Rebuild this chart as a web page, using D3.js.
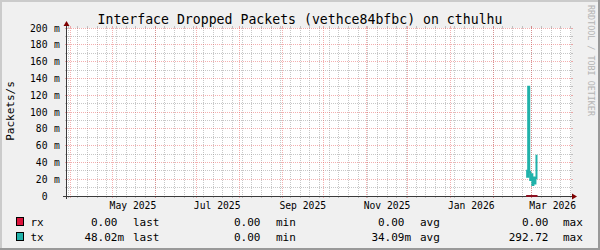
<!DOCTYPE html>
<html>
<head>
<meta charset="utf-8">
<script src="https://cdn.jsdelivr.net/npm/d3@7"></script>
<style>
  body { margin: 0; background: #f0f0f0; }
  svg { display: block; font-family: "DejaVu Sans Mono", monospace; }
</style>
</head>
<body>
<svg id="chart" width="600" height="250"></svg>
<script>
// chart values
const title = "Interface Dropped Packets (vethce84bfbc) on cthulhu";
const yLabel = "Packets/s";
const watermark = "RRDTOOL / TOBI OETIKER";
const timeStart = "2025-03-29T06:00";
const timeEnd = "2026-03-29T06:00";

const seriesNames = ["rx", "tx"];
const seriesColors = ["#dc143c", "#20b2aa"];

const sampleTimes = ["2026-02-24T18:00", "2026-02-25T12:00", "2026-02-26T06:00", "2026-02-27T00:00",
  "2026-02-27T18:00", "2026-02-28T12:00", "2026-03-01T06:00", "2026-03-02T00:00",
  "2026-03-02T18:00", "2026-03-03T12:00", "2026-03-04T06:00"];
const rxValues = [0, 0, 0, 0, 0, 0, 0, 0, 0, 0, 0];
const txValues = [0.030, 0.023, 0.130, 0.029, 0.019, 0.026, 0.013, 0.022, 0.015, 0.021, 0.048];

const yTicks = [0, 0.02, 0.04, 0.06, 0.08, 0.10, 0.12, 0.14, 0.16, 0.18, 0.20];
const yTickLabels = ["0", "20 m", "40 m", "60 m", "80 m", "100 m", "120 m", "140 m", "160 m", "180 m", "200 m"];
const xTickLabels = ["May 2025", "Jul 2025", "Sep 2025", "Nov 2025", "Jan 2026", "Mar 2026"];

const statNames = ["last", "min", "avg", "max"];
const rxStats = ["0.00", "0.00", "0.00", "0.00"];
const txStats = ["48.02m", "0.00", "34.09m", "292.72"];

// ---------------------------------------------------------------
const W = 600, H = 250;
const parseT = d3.timeParse("%Y-%m-%dT%H:%M");
const parseM = d3.timeParse("%b %Y");
const t0 = parseT(timeStart), t1 = parseT(timeEnd);

const x = d3.scaleTime().domain([t0, t1]).range([67, 571]);
const y = d3.scaleLinear().domain([0, 0.2]).range([196, 28]);
const X0 = 67, X1 = 571, Y0 = 196, Y1 = 28;

const svg = d3.select("#chart");

// frame with rrdtool-like shading
svg.append("rect").attr("width", W).attr("height", H).attr("fill", "#f0f0f0");
svg.append("path").attr("d", `M0,0H${W}V2H2V${H}H0Z`).attr("fill", "#cbcbcb");
svg.append("path").attr("d", `M${W},${H}H0V${H - 2}H${W - 2}V0H${W}Z`).attr("fill", "#999999");

// canvas
svg.append("rect").attr("x", X0).attr("y", Y1).attr("width", X1 - X0).attr("height", Y0 - Y1).attr("fill", "#ffffff");

const gridCol = "rgba(143,143,143,0.5)";
const mgridCol = "rgba(230,78,78,0.45)";
const grid = svg.append("g").attr("shape-rendering", "crispEdges");

function vLine(t, col) {
  const px = Math.floor(x(t)) + 0.5;
  grid.append("line").attr("x1", px).attr("x2", px).attr("y1", Y1).attr("y2", Y0)
    .attr("stroke", col).attr("stroke-dasharray", "1,1");
  grid.append("line").attr("x1", px).attr("x2", px).attr("y1", Y0).attr("y2", Y0 + 2).attr("stroke", col);
  grid.append("line").attr("x1", px).attr("x2", px).attr("y1", Y1 - 2).attr("y2", Y1).attr("stroke", col);
}
function hLine(v, col) {
  const py = Math.floor(y(v)) + 0.5;
  grid.append("line").attr("x1", X0).attr("x2", X1).attr("y1", py).attr("y2", py)
    .attr("stroke", col).attr("stroke-dasharray", "1,1");
  grid.append("line").attr("x1", X0 - 2).attr("x2", X0).attr("y1", py).attr("y2", py).attr("stroke", col);
  grid.append("line").attr("x1", X1).attr("x2", X1 + 2).attr("y1", py).attr("y2", py).attr("stroke", col);
}

// minor grid: weeks and 10 m steps
d3.timeSunday.range(t0, t1).forEach(t => vLine(t, gridCol));
d3.range(0, 21).map(i => i * 0.01).filter((v, i) => i % 2 === 1).forEach(v => hLine(v, gridCol));
// major grid: months and labelled values
d3.timeMonth.range(d3.timeMonth.ceil(t0), t1).forEach(t => vLine(t, mgridCol));
yTicks.forEach(v => hLine(v, mgridCol));

// axes
const axisCol = "#3a3a3a";
svg.append("line").attr("x1", X0 - 0.5).attr("x2", X0 - 0.5).attr("y1", Y1 - 3).attr("y2", Y0 + 3)
  .attr("stroke", axisCol).attr("shape-rendering", "crispEdges");
svg.append("line").attr("x1", X0 - 4).attr("x2", X1 + 2).attr("y1", Y0 + 0.5).attr("y2", Y0 + 0.5)
  .attr("stroke", axisCol).attr("shape-rendering", "crispEdges");
svg.append("path").attr("d", `M${X0 - 3.5},${Y1 - 2}L${X0 - 0.5},${Y1 - 7}L${X0 + 2.5},${Y1 - 2}Z`).attr("fill", "#7f0000");
svg.append("path").attr("d", `M${X1 + 1},${Y0 - 2.5}L${X1 + 6},${Y0 + 0.5}L${X1 + 1},${Y0 + 3.5}Z`).attr("fill", "#7f0000");

// series (drawn over the axis, as in the reference)
const times = sampleTimes.map(parseT);
const step = times[1] - times[0];
function seriesPoints(vals) {
  const pts = times.map((t, i) => [t, vals[i]]);
  pts.push([new Date(+times[times.length - 1] + step), vals[vals.length - 1]]);
  return pts;
}
const line = d3.line().x(d => x(d[0])).y(d => y(d[1])).curve(d3.curveStepAfter);
svg.append("path").datum(seriesPoints(rxValues)).attr("d", line)
  .attr("fill", "none").attr("stroke", "#8b1020").attr("stroke-width", 2);
svg.append("path").datum(seriesPoints(txValues)).attr("d", line)
  .attr("fill", "none").attr("stroke", seriesColors[1]).attr("stroke-width", 2);

// y tick labels: number right-aligned, unit in its own column
yTicks.forEach((v, i) => {
  const parts = yTickLabels[i].split(" ");
  svg.append("text").attr("x", 47.5).attr("y", y(v) + 3.5).attr("text-anchor", "end")
    .attr("font-size", 9.7).attr("fill", "#000").text(parts[0]);
  if (parts[1]) {
    svg.append("text").attr("x", 54).attr("y", y(v) + 3.5)
      .attr("font-size", 9.7).attr("fill", "#000").text(parts[1]);
  }
});

// x tick labels, centred half a month after the grid line
xTickLabels.forEach(s => {
  const t = d3.timeDay.offset(parseM(s), 15);
  svg.append("text").attr("x", x(t)).attr("y", 209).attr("text-anchor", "middle")
    .attr("font-size", 9.7).attr("fill", "#000").text(s);
});

// title, unit label, watermark
svg.append("text").attr("x", W / 2).attr("y", 24).attr("text-anchor", "middle")
  .attr("font-size", 13.2).attr("fill", "#000").text(title);
svg.append("text").attr("transform", "translate(14,111) rotate(-90)").attr("text-anchor", "middle")
  .attr("font-size", 11).attr("fill", "#000").text(yLabel);
svg.append("text").attr("transform", "translate(588,5) rotate(90)")
  .attr("font-size", 8.4).attr("fill", "#b4b4b4").text(watermark);

// legend
const statCols = [117.5, 260.5, 404.5, 548.5];
const wordCols = [133, 276, 420, 563];
[rxStats, txStats].forEach((stats, r) => {
  const by = 226 + r * 15;
  svg.append("rect").attr("x", 16.5).attr("y", by - 8.5).attr("width", 7).attr("height", 8)
    .attr("fill", seriesColors[r]).attr("stroke", "#000").attr("shape-rendering", "crispEdges");
  svg.append("text").attr("x", 30.5).attr("y", by).attr("font-size", 11).text(seriesNames[r]);
  stats.forEach((s, c) => {
    const unit = /[a-zµ]$/i.test(s) ? s.slice(-1) : "";
    const num = unit ? s.slice(0, -1) : s;
    svg.append("text").attr("x", statCols[c]).attr("y", by).attr("text-anchor", "end")
      .attr("font-size", 11).text(num);
    if (unit) svg.append("text").attr("x", statCols[c]).attr("y", by).attr("font-size", 11).text(unit);
    svg.append("text").attr("x", wordCols[c]).attr("y", by).attr("font-size", 11).text(statNames[c]);
  });
});
</script>
</body>
</html>
